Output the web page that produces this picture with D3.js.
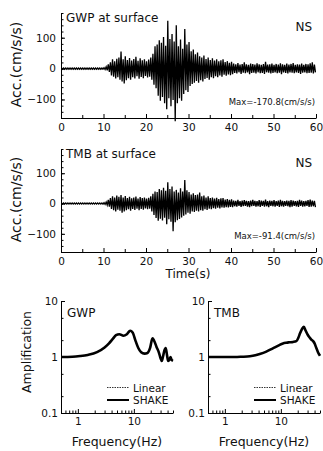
<!DOCTYPE html>
<html>
<head>
<meta charset="utf-8">
<script src="https://cdn.jsdelivr.net/npm/d3@7"></script>
<style>
  body { margin: 0; background: #fff; }
  svg text { font-family: "DejaVu Sans", Verdana, sans-serif; fill: #111; }
</style>
</head>
<body>
<div id="chart"></div>
<script>
// acceleration records, min/max per 0.5 s bin (cm/s/s)
const binStep = 0.5;
const gwpMax = [2,2,2,2,2,2,2,2,2,2,2,2,2,2,2,2,2,2,2,2,3,
  6,14,20,30,24,32,36,55,30,40,28,34,26,31,38,25,33,27,30,24,29,36,48,72,78,92,84,102,74,155,96,112,88,140,72,94,64,128,78,86,56,62,46,52,40,36,42,31,36,28,33,26,30,24,27,30,21,24,19,22,
  16,14,18,13,15,20,14,12,16,15,13,17,14,12,15,22,13,14,16,12,15,13,17,14,12,16,13,15,18,12,14,13,16,12,15,14,17,20,13];
const gwpMin = [-2,-2,-2,-2,-2,-2,-2,-2,-2,-2,-2,-2,-2,-2,-2,-2,-2,-2,-2,-2,-3,
  -6,-11,-22,-26,-32,-28,-36,-42,-48,-38,-31,-36,-28,-32,-25,-33,-27,-31,-24,-29,-26,-36,-52,-64,-88,-104,-92,-112,-132,-96,-122,-102,-170.8,-112,-96,-104,-82,-70,-76,-56,-50,-46,-40,-46,-38,-42,-34,-30,-36,-28,-31,-25,-28,-22,-26,-20,-23,-19,-21,-18,
  -14,-16,-12,-17,-13,-15,-12,-18,-14,-13,-16,-12,-15,-14,-17,-12,-13,-16,-14,-12,-15,-13,-18,-12,-14,-16,-12,-13,-15,-12,-14,-17,-13,-12,-15,-14,-13,-16,-12];
const tmbMax = [2,2,2,2,2,2,2,2,2,2,2,2,2,2,2,2,2,2,2,2,3,
  5,12,18,24,20,26,22,28,20,25,18,22,17,20,23,16,21,18,20,16,19,24,32,40,38,48,44,52,42,70,48,56,40,45,36,50,40,78,44,38,30,34,28,30,36,24,26,20,24,18,20,16,19,15,17,18,13,15,12,14,
  10,9,12,8,10,11,9,8,10,12,9,8,11,10,9,13,8,10,9,11,8,10,12,9,8,10,9,11,10,8,9,12,10,8,9,11,13,10,9];
const tmbMin = [-2,-2,-2,-2,-2,-2,-2,-2,-2,-2,-2,-2,-2,-2,-2,-2,-2,-2,-2,-2,-3,
  -5,-10,-18,-22,-26,-20,-24,-30,-26,-22,-19,-24,-18,-21,-17,-22,-18,-20,-16,-19,-17,-26,-38,-48,-57,-50,-56,-47,-68,-52,-60,-91.4,-62,-55,-51,-46,-40,-36,-30,-34,-26,-28,-24,-26,-22,-24,-19,-21,-17,-19,-15,-17,-14,-16,-13,-14,-12,-13,-11,-12,
  -9,-10,-8,-11,-9,-8,-10,-12,-9,-8,-10,-9,-11,-8,-10,-9,-12,-8,-9,-10,-8,-11,-9,-10,-8,-9,-12,-10,-8,-9,-11,-8,-10,-9,-8,-11,-10,-9,-12];

// amplification spectra
const gwpFreq   = [0.5,0.8,1.1,1.5,2.2,3.0,3.6,4.2,4.8,5.5,6.5,7.5,8.6,9.5,10.8,12,13.5,15.5,17.5,19.5,21.5,23,25.5,28,30,31.5,33,35,37,39,41,43,45,47,50];
const gwpLinear = [1.0,1.01,1.04,1.09,1.22,1.47,1.74,2.1,2.44,2.55,2.42,2.56,2.96,2.76,1.92,1.46,1.23,1.16,1.19,1.46,2.14,1.95,1.5,1.2,0.96,0.86,1.0,1.3,1.44,1.1,0.86,0.88,1.0,0.9,0.86];
const gwpShake  = [1.0,1.01,1.04,1.09,1.22,1.48,1.75,2.1,2.45,2.55,2.4,2.55,2.95,2.75,1.9,1.45,1.22,1.15,1.18,1.45,2.15,1.95,1.5,1.2,0.95,0.85,1.0,1.3,1.45,1.1,0.85,0.88,1.0,0.9,0.85];
const tmbFreq   = [0.5,1,1.5,2,2.8,3.5,4.2,5.5,7.2,9,10.9,12.5,14.3,16.5,18.9,20.5,22,24,25.8,27.5,30.5,33,35,38,40,43,46,50];
const tmbLinear = [1.0,1.0,1.0,1.01,1.03,1.07,1.13,1.25,1.43,1.6,1.75,1.8,1.83,1.86,1.92,2.2,2.66,3.22,3.48,3.0,2.45,2.2,2.05,1.9,1.75,1.45,1.22,1.05];
const tmbShake  = [1.0,1.0,1.0,1.01,1.03,1.07,1.13,1.25,1.43,1.6,1.75,1.8,1.83,1.86,1.92,2.2,2.65,3.2,3.47,3.0,2.45,2.2,2.05,1.9,1.75,1.45,1.22,1.05];

const timeTicks = [0,10,20,30,40,50,60];
const accTicks = [-100,0,100];

const svg = d3.select('#chart').append('svg').attr('width', 323).attr('height', 451);

function tracePanel(top, bottom, maxArr, minArr, title, maxLabel, showTimeTitle) {
  const x = d3.scaleLinear().domain([0, 60]).range([61, 316]);
  const y = d3.scaleLinear().domain([-160, 180]).range([bottom, top]);
  const g = svg.append('g');

  // min/max zigzag so the dense record draws like the original
  const pts = [];
  maxArr.forEach((v, i) => {
    pts.push([i * binStep + binStep * 0.25, v]);
    pts.push([i * binStep + binStep * 0.75, minArr[i]]);
  });
  g.append('path')
      .attr('fill', 'none')
      .attr('stroke', '#000')
      .attr('stroke-width', 1.3)
      .attr('d', d3.line().x((d) => x(d[0])).y((d) => y(d[1]))(pts));

  const xAxis = g.append('g').attr('transform', 'translate(0,' + bottom + ')')
      .call(d3.axisBottom(x).tickValues(timeTicks).tickSize(-4).tickSizeOuter(0).tickPadding(6));
  g.append('g').attr('transform', 'translate(0,' + bottom + ')')
      .call(d3.axisBottom(x).tickValues(d3.range(5, 60, 10)).tickSize(-3).tickSizeOuter(0).tickFormat(''))
      .select('.domain').remove();
  const yAxis = g.append('g').attr('transform', 'translate(61,0)')
      .call(d3.axisLeft(y).tickValues(accTicks).tickSize(-4).tickSizeOuter(0).tickPadding(5));
  g.append('g').attr('transform', 'translate(61,0)')
      .call(d3.axisLeft(y).tickValues(d3.range(-160, 181, 20)).tickSize(-2.5).tickSizeOuter(0).tickFormat(''))
      .select('.domain').remove();
  [xAxis, yAxis].forEach((a) => a.selectAll('text').style('font-size', '10.5px').attr('fill', '#111'));

  g.append('text').attr('x', 66).attr('y', top + 9).style('font-size', '12px').text(title);
  g.append('text').attr('x', 312).attr('y', top + 18).attr('text-anchor', 'end').style('font-size', '12px').text('NS');
  g.append('text').attr('x', 315).attr('y', bottom - 13).attr('text-anchor', 'end').style('font-size', '8.5px').text(maxLabel);
  g.append('text')
      .attr('transform', 'translate(21,' + (y(0) - 4) + ') rotate(-90)')
      .attr('text-anchor', 'middle').style('font-size', '14px').text('Acc.(cm/s/s)');
  if (showTimeTitle)
    g.append('text').attr('x', 188).attr('y', bottom + 26).attr('text-anchor', 'middle').style('font-size', '12px').text('Time(s)');
}

tracePanel(13, 118, gwpMax, gwpMin, 'GWP at surface', 'Max=-170.8(cm/s/s)', false);
tracePanel(149, 252, tmbMax, tmbMin, 'TMB at surface', 'Max=-91.4(cm/s/s)', true);

function ampPanel(left, freq, linear, shake, name, showYTitle) {
  const x = d3.scaleLog().domain([0.5, 50]).range([left, left + 112]);
  const y = d3.scaleLog().domain([0.1, 10]).range([413, 301]);
  const g = svg.append('g');
  const line = d3.line().x((d) => x(d[0])).y((d) => y(d[1])).curve(d3.curveMonotoneX);

  g.append('path').attr('fill', 'none').attr('stroke', '#000').attr('stroke-width', 0.8)
      .attr('stroke-dasharray', '1.5,1').attr('d', line(freq.map((f, i) => [f, linear[i]])));
  g.append('path').attr('fill', 'none').attr('stroke', '#000').attr('stroke-width', 2.6)
      .attr('stroke-linejoin', 'round').attr('d', line(freq.map((f, i) => [f, shake[i]])));

  const xa = g.append('g').attr('transform', 'translate(0,413)')
      .call(d3.axisBottom(x).tickValues([1, 10]).tickFormat(d3.format('d')).tickSize(-4).tickSizeOuter(0).tickPadding(5));
  g.append('g').attr('transform', 'translate(0,413)')
      .call(d3.axisBottom(x).tickValues([0.6,0.7,0.8,0.9,2,3,4,5,6,7,8,9,20,30,40,50]).tickSize(-2.5).tickSizeOuter(0).tickFormat(''))
      .select('.domain').remove();
  const ya = g.append('g').attr('transform', 'translate(' + left + ',0)')
      .call(d3.axisLeft(y).tickValues([0.1, 1, 10]).tickFormat((d) => (d < 1 ? '0.1' : String(d))).tickSize(-4).tickSizeOuter(0).tickPadding(3));
  g.append('g').attr('transform', 'translate(' + left + ',0)')
      .call(d3.axisLeft(y).tickValues([0.2, 0.5, 2, 5]).tickSize(-2.5).tickSizeOuter(0).tickFormat(''))
      .select('.domain').remove();
  [xa, ya].forEach((a) => a.selectAll('text').style('font-size', '10.5px').attr('fill', '#111'));

  g.append('text').attr('x', left + 6).attr('y', 317).style('font-size', '12px').text(name);
  g.append('text').attr('x', left + 56).attr('y', 446).attr('text-anchor', 'middle').style('font-size', '12.5px').text('Frequency(Hz)');
  if (showYTitle)
    g.append('text').attr('transform', 'translate(31,352) rotate(-90)')
        .attr('text-anchor', 'middle').style('font-size', '12.5px').text('Amplification');

  // legend
  const lx = left + 46;
  g.append('line').attr('x1', lx).attr('x2', lx + 22).attr('y1', 387.5).attr('y2', 387.5)
      .attr('stroke', '#000').attr('stroke-width', 0.8).attr('stroke-dasharray', '1.5,1');
  g.append('line').attr('x1', lx).attr('x2', lx + 22).attr('y1', 400).attr('y2', 400)
      .attr('stroke', '#000').attr('stroke-width', 2);
  g.append('text').attr('x', lx + 26).attr('y', 391.5).style('font-size', '10.5px').text('Linear');
  g.append('text').attr('x', lx + 26).attr('y', 404).style('font-size', '10.5px').text('SHAKE');
}

ampPanel(61, gwpFreq, gwpLinear, gwpShake, 'GWP', true);
ampPanel(208, tmbFreq, tmbLinear, tmbShake, 'TMB', false);
</script>
</body>
</html>
